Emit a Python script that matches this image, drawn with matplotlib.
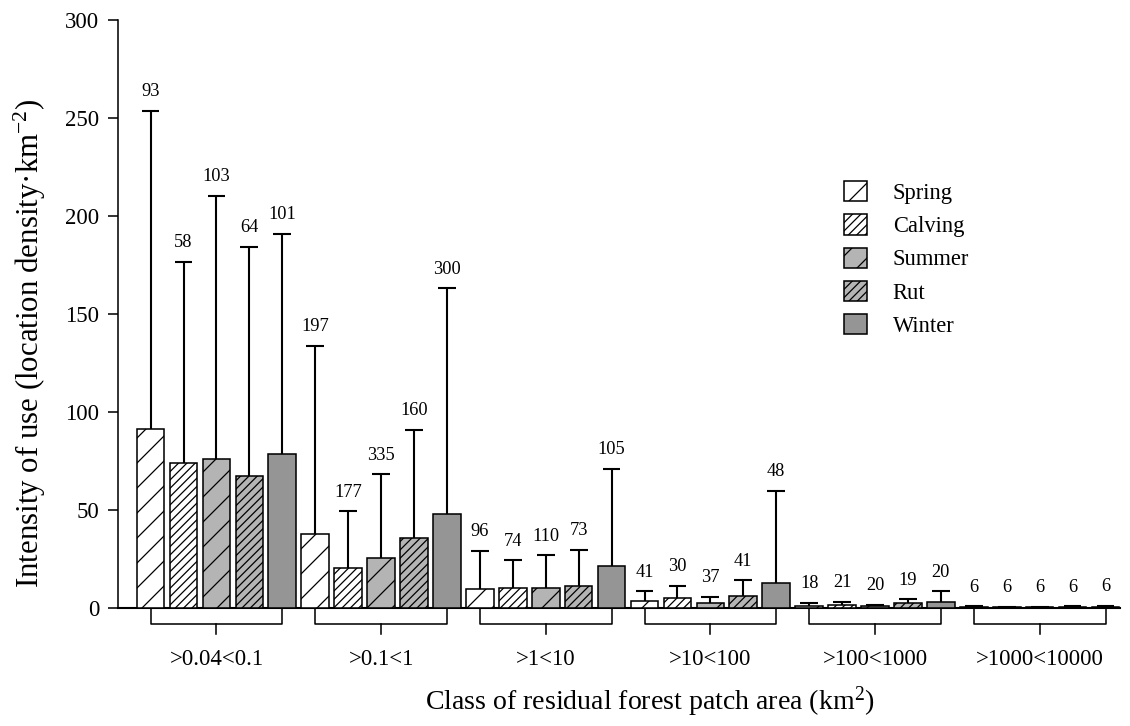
import numpy as np
import matplotlib
matplotlib.use('Agg')
import matplotlib.pyplot as plt

plt.rcParams['font.family'] = ['Liberation Serif', 'DejaVu Serif']
plt.rcParams['mathtext.fontset'] = 'custom'
plt.rcParams['mathtext.rm'] = 'Liberation Serif'
plt.rcParams['mathtext.it'] = 'Liberation Serif:italic'
plt.rcParams['hatch.linewidth'] = 0.6

# Patch area classes and seasons
classes = ['>0.04<0.1', '>0.1<1', '>1<10', '>10<100', '>100<1000', '>1000<10000']
seasons = ['Spring', 'Calving', 'Summer', 'Rut', 'Winter']

# Mean intensity of use per season (one value per class)
spring_mean = [91.2, 37.9, 9.5, 3.7, 1.2, 0.4]
calving_mean = [73.8, 20.2, 10.0, 4.9, 1.4, 0.3]
summer_mean = [75.9, 25.3, 10.0, 2.4, 1.0, 0.4]
rut_mean = [67.5, 35.5, 11.1, 6.1, 2.4, 0.4]
winter_mean = [78.4, 48.0, 21.4, 12.9, 3.2, 0.6]

# Standard deviations (upper error bars)
spring_sd = [162.4, 95.9, 19.7, 4.8, 1.5, 0.4]
calving_sd = [102.9, 29.1, 14.3, 6.5, 1.8, 0.3]
summer_sd = [134.5, 42.9, 16.9, 3.2, 0.5, 0.3]
rut_sd = [116.7, 55.5, 18.7, 8.0, 2.0, 0.4]
winter_sd = [112.6, 115.1, 49.5, 46.8, 5.3, 0.6]

# Sample sizes printed above the bars
spring_n = [93, 197, 96, 41, 18, 6]
calving_n = [58, 177, 74, 30, 21, 6]
summer_n = [103, 335, 110, 37, 20, 6]
rut_n = [64, 160, 73, 41, 19, 6]
winter_n = [101, 300, 105, 48, 20, 6]

means = [spring_mean, calving_mean, summer_mean, rut_mean, winter_mean]
sds = [spring_sd, calving_sd, summer_sd, rut_sd, winter_sd]
counts = [spring_n, calving_n, summer_n, rut_n, winter_n]
fills = ['white', 'white', '#b4b4b4', '#b4b4b4', '#959595']
hatches = ['//', '//////', '//', '//////', None]

fig = plt.figure(figsize=(1130 / 150, 726 / 150), dpi=150)
ax = fig.add_axes([118 / 1130, 1 - 608 / 726, (1120 - 118) / 1130, (608 - 20) / 726])

group_x = np.arange(len(classes)) * len(seasons)
width = 0.84

for k in range(len(seasons)):
    x = group_x + k
    m = np.array(means[k])
    top = m + np.array(sds[k])
    ax.bar(x, m, width=width, color=fills[k], edgecolor='black', linewidth=0.75,
           hatch=hatches[k], label=seasons[k], zorder=3)
    # upper error bars only
    ax.vlines(x, m, top, color='black', linewidth=1.0, zorder=2)
    ax.hlines(top, x - 0.27, x + 0.27, color='black', linewidth=1.0, zorder=2)
    for xi, ti, n in zip(x, top, counts[k]):
        ax.annotate(str(n), (xi, ti), xytext=(0, 7), textcoords='offset points',
                    ha='center', va='baseline', fontsize=8.8)

# brackets under each class
for g, gx in enumerate(group_x):
    x0, x1 = gx, gx + len(seasons) - 1
    ax.plot([x0, x0, x1, x1], [0, -8.2, -8.2, 0], color='black', linewidth=0.75, clip_on=False)
    ax.plot([gx + 2, gx + 2], [-8.2, -13.3], color='black', linewidth=0.75, clip_on=False)
    ax.text(gx + 2, -26.5, classes[g], ha='center', va='center', fontsize=11)

ax.set_xlim(-0.99, 29.44)
ax.set_ylim(0, 300)
ax.set_yticks(np.arange(0, 301, 50))
ax.set_xticks([])
ax.tick_params(axis='y', direction='out', length=4.8, width=0.75, pad=4.3, labelsize=11)
ax.spines['top'].set_visible(False)
ax.spines['right'].set_visible(False)
ax.spines['left'].set_linewidth(0.75)
ax.spines['bottom'].set_linewidth(1.0)

fig.text(30 / 1130, 1 - 343 / 726, 'Intensity of use (location density·km$^{-2}$)',
         rotation=90, ha='center', va='center', fontsize=14.8)
fig.text(650 / 1130, 1 - 702 / 726, 'Class of residual forest patch area (km$^{2}$)',
         ha='center', va='center', fontsize=13.4)

ax.legend(loc='upper left', bbox_to_anchor=(844 / 1130, 1 - 181 / 726),
          bbox_transform=fig.transFigure, frameon=False, fontsize=10.8,
          handlelength=1.02, handleheight=1.02, handletextpad=1.15,
          labelspacing=0.46, borderpad=0, borderaxespad=0)

plt.savefig('out.png', dpi=150)
